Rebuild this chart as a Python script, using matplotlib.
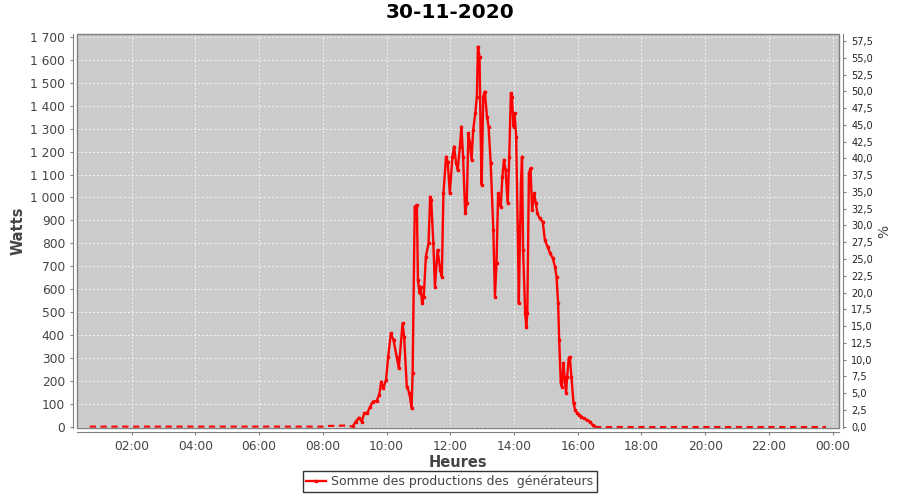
import matplotlib
matplotlib.use('Agg')
import matplotlib.pyplot as plt
from matplotlib.patches import Rectangle
from matplotlib.ticker import FuncFormatter, MultipleLocator
import numpy as np

# --- data (time of day, watts) ---
times = ["00:41", "02:00", "04:00", "06:00", "07:00", "08:00", "08:10", "08:30", "08:45",
         "08:56", "09:02", "09:08", "09:13", "09:18", "09:24", "09:29", "09:34", "09:41", "09:46",
         "09:50", "09:54", "09:59", "10:03", "10:08", "10:13", "10:19", "10:23", "10:30", "10:33",
         "10:38", "10:43", "10:47", "10:49", "10:53", "10:57", "10:59", "11:02", "11:04", "11:07",
         "11:10", "11:14", "11:19", "11:22", "11:24", "11:28", "11:31", "11:36", "11:41", "11:44",
         "11:47", "11:52", "11:55", "11:59", "12:04", "12:07", "12:11", "12:14", "12:18", "12:21",
         "12:24", "12:28", "12:31", "12:34", "12:37", "12:40", "12:43", "12:47", "12:50", "12:52",
         "12:55", "12:57", "12:59", "13:02", "13:05", "13:09", "13:12", "13:16", "13:21", "13:24",
         "13:27", "13:30", "13:32", "13:35", "13:38", "13:41", "13:44", "13:48", "13:51", "13:54",
         "13:56", "13:59", "14:01", "14:04", "14:07", "14:09", "14:13", "14:15", "14:17", "14:21",
         "14:23", "14:25", "14:28", "14:31", "14:34", "14:38", "14:41", "14:44", "14:48", "14:54",
         "14:58", "15:03", "15:08", "15:13", "15:17", "15:20", "15:23", "15:25", "15:28", "15:30",
         "15:33", "15:35", "15:38", "15:40", "15:43", "15:45", "15:48", "15:52", "15:55", "15:59",
         "16:03", "16:07", "16:11", "16:17", "16:23", "16:28", "16:33", "18:00", "20:00", "22:00",
         "23:48"]
watts = [0, 0, 0, 0, 0, 0, 3, 4, 5,
         0, 22, 39, 22, 58, 61, 87, 109, 112, 138,
         196, 167, 204, 305, 407, 378, 305, 255, 451, 393,
         175, 146, 80, 233, 960, 967, 640, 582, 611, 538,
         567, 742, 800, 1003, 989, 800, 611, 771, 684, 654,
         1018, 1178, 1156, 1018, 1178, 1222, 1149, 1120, 1222, 1309,
         1178, 931, 975, 1280, 1236, 1164, 1294, 1367, 1440, 1658,
         1614, 1294, 1055, 1440, 1462, 1353, 1309, 1149, 858, 567,
         713, 1018, 975, 960, 1091, 1164, 1120, 975, 1178, 1455,
         1440, 1309, 1367, 1265, 858, 538, 1062, 1178, 771, 495,
         436, 495, 1106, 1127, 945, 1018, 975, 931, 909, 894,
         815, 785, 756, 735, 698, 654, 538, 378, 189, 175,
         277, 218, 146, 218, 298, 305, 218, 102, 73, 58,
         51, 44, 36, 29, 22, 7, 0, 0, 0, 0,
         0]
series_label = "Somme des productions des  générateurs"
title = "30-11-2020"
peak_power = 2925  # W equivalent of 100 %

hours = np.array([int(t[:2]) + int(t[3:]) / 60 for t in times])
watts = np.array(watts, dtype=float)

grey_txt = '#444444'
fig = plt.figure(figsize=(9, 5), dpi=100)
ax = fig.add_axes([0.0859, 0.144, 0.8463, 0.788])
ax.set_facecolor('#cbcbcb')

day = (hours >= 8.9) & (hours <= 16.6)
first = np.argmax(day)
last = len(day) - np.argmax(day[::-1]) - 1
# night parts look dashed in the reference
ax.plot(hours[:first + 1], watts[:first + 1], color='red', lw=1.5, ls=(0, (3, 2.2)))
ax.plot(hours[last:], watts[last:], color='red', lw=1.5, ls=(0, (3, 2.2)))
ax.plot(hours[first:last + 1], watts[first:last + 1], color='red', lw=1.7,
        marker='s', ms=1.5, label=series_label)

ax.set_xlim(0.293, 24.198)
ax.set_ylim(-6, 1713)
ax.xaxis.set_major_locator(MultipleLocator(2))
ax.xaxis.set_major_formatter(FuncFormatter(lambda h, p: f"{int(round(h)) % 24:02d}:00"))
ax.yaxis.set_major_locator(MultipleLocator(100))
ax.yaxis.set_major_formatter(FuncFormatter(lambda v, p: f"{v:,.0f}".replace(",", " ")))
ax.grid(True, color='#f2f2f2', ls=(0, (2, 2)), lw=0.7)
ax.set_axisbelow(True)

for s in ['top', 'right']:
    ax.spines[s].set_visible(False)
for s in ['left', 'bottom']:
    ax.spines[s].set_position(('outward', 2.8))
    ax.spines[s].set_color('#808080')
ax.add_patch(Rectangle((0, 0), 1, 1, transform=ax.transAxes, fill=False,
                       ec='#808080', lw=1, clip_on=False, zorder=5))
ax.tick_params(colors='#808080', labelcolor=grey_txt, labelsize=8.8, length=2.5, width=0.8)

ax2 = ax.twinx()
ax2.set_ylim(-6 / peak_power * 100, 1713 / peak_power * 100)
ax2.yaxis.set_major_locator(MultipleLocator(2.5))
ax2.yaxis.set_major_formatter(FuncFormatter(lambda v, p: f"{v:.1f}".replace(".", ",")))
for s in ['top', 'left', 'bottom']:
    ax2.spines[s].set_visible(False)
ax2.spines['right'].set_position(('outward', 2.8))
ax2.spines['right'].set_color('#808080')
ax2.tick_params(colors='#808080', labelcolor='#222222', labelsize=7, length=2.5, width=0.8)
ax2.set_ylabel('%', fontsize=10, color=grey_txt, labelpad=3)

ax.set_xlabel('Heures', fontsize=10.5, fontweight='bold', color=grey_txt, labelpad=1)
ax.set_ylabel('Watts', fontsize=10.5, fontweight='bold', color=grey_txt, labelpad=3)
fig.text(0.5, 0.974, title, ha='center', va='center', fontsize=14.5, fontweight='bold')

leg = fig.legend(loc='lower center', bbox_to_anchor=(0.5, 0.004), fontsize=9,
                 frameon=True, fancybox=False, handlelength=1.6, handletextpad=0.4,
                 borderpad=0.3, labelcolor=grey_txt)
leg.get_frame().set_edgecolor('black')
leg.get_frame().set_linewidth(1)

fig.savefig('out.png', dpi=100)
